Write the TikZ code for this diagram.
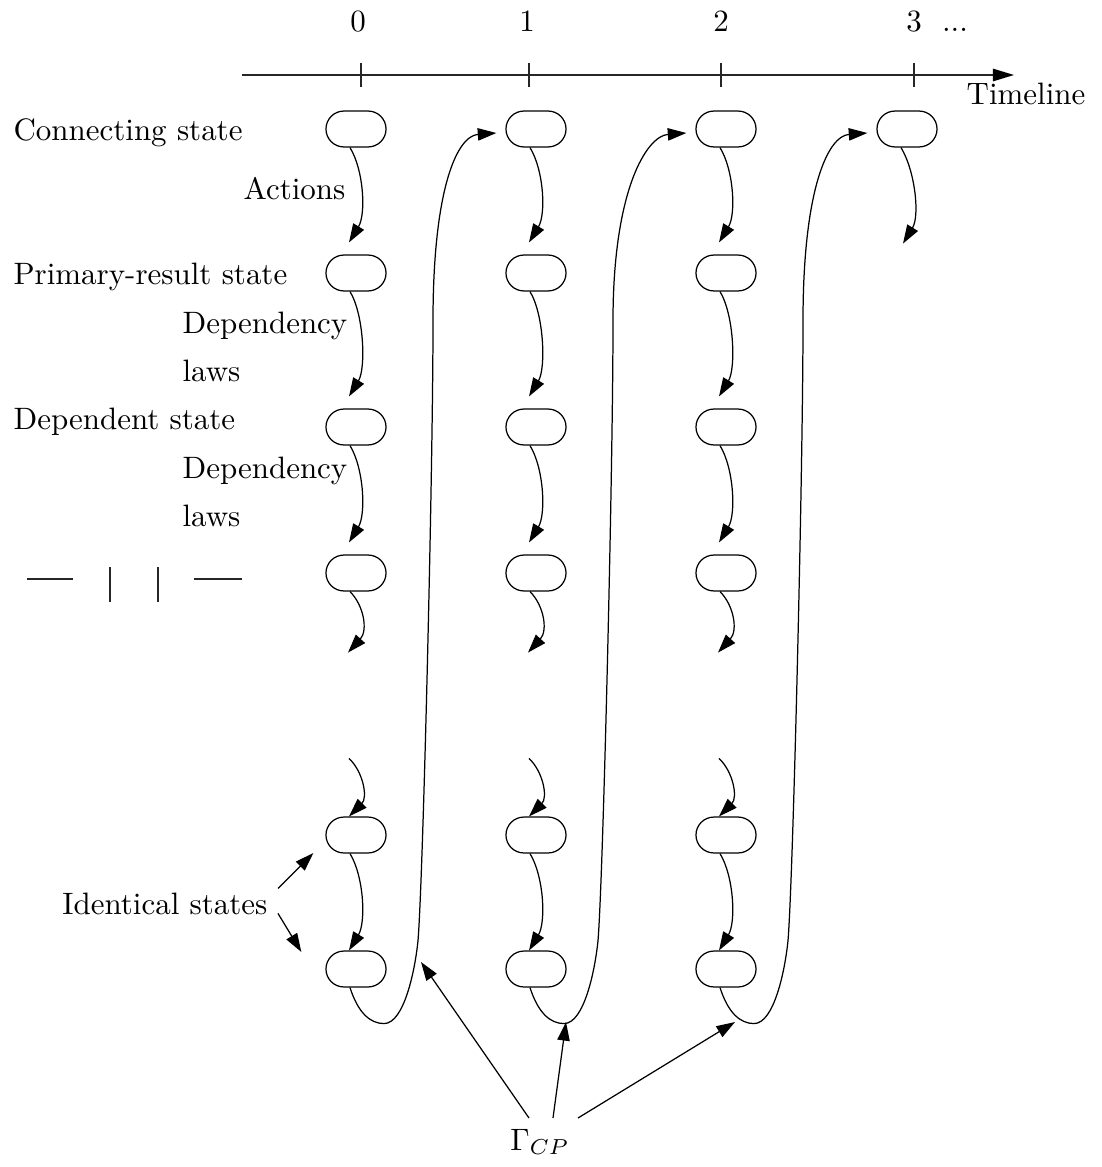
\documentclass[tikz,border=0pt]{standalone}
\usetikzlibrary{arrows.meta,calc}
\begin{document}
\begin{tikzpicture}[x=0.323pt,y=-0.323pt,
  st/.style={draw,rectangle,rounded corners=5.8pt,minimum width=19.4pt,minimum height=11.6pt,inner sep=0pt,line width=0.4pt},
  arr/.style={-{Triangle[length=6pt,width=4pt]},line width=0.4pt},
  lbl/.style={anchor=base west,inner sep=0pt},
  num/.style={anchor=base,inner sep=0pt},
  axis/.style={line width=0.5pt,black!85},
]
\useasboundingbox (0,0) rectangle (1102,1167);
% timeline
\coordinate (tl0) at (242,75);
\coordinate (tl1) at (1014,75);
\draw[axis,-{Triangle[length=6.8pt,width=4pt,color=black]}] (tl0) -- (tl1);
\foreach \x in {361,529,721,914} {\draw[axis] (\x,63) -- (\x,87);}
\node[num] (lab0) at (358,31) {0};
\node[num] (lab1) at (527,31) {1};
\node[num] (lab2) at (721,31) {2};
\node[num] (lab3) at (914,31) {3};
\node[num] (labdots) at (955,31) {...};
\node[num] (tlname) at (1026,104) {Timeline};
% states
\foreach \c/\x in {0/356,1/536,2/726}
  \foreach \r/\y in {0/129,1/273,2/427,3/573,4/835,5/969}
    \node[st] (n\c\r) at (\x,\y) {};
\node[st] (n30) at (907,129) {};
% left labels
\node[lbl] (lconn) at (13,140) {Connecting state};
\node[lbl] (lact) at (243,199) {Actions};
\node[lbl] (lprim) at (13,284) {Primary-result state};
\node[lbl] (ldep1) at (182,333) {Dependency};
\node[lbl] (llaw1) at (182,381) {laws};
\node[lbl] (ldst) at (13,429) {Dependent state};
\node[lbl] (ldep2) at (182,478) {Dependency};
\node[lbl] (llaw2) at (182,526) {laws};
\node[anchor=base east,inner sep=0pt] (ident) at (268,914) {Identical states};
% dash row
\draw[axis] (27,579) -- (73,579);
\draw[axis] (110,567) -- (110,602);
\draw[axis] (158,567) -- (158,602);
\draw[axis] (194,579) -- (242,579);
% vertical arrows
\foreach \c in {0,1,2} {
  \foreach \r/\s in {0/1,1/2,2/3} {
    \draw[arr] ($(n\c\r.south)+(-6,0)$) .. controls +(14,23) and +(17,-28) .. ($(n\c\s.north)+(-7,-12)$);
  }
  \coordinate (s\c) at ($(n\c3.south)+(-8,61)$);
  \draw[arr] ($(n\c3.south)+(-6,0)$) .. controls +(14,14) and +(20,-22) .. (s\c);
  \coordinate (t\c) at ($(n\c4.north)+(-7,-58)$);
  \draw[arr] (t\c) .. controls +(14,13) and +(19,-19) .. ($(n\c4.north)+(-7,0)$);
  \draw[arr] ($(n\c4.south)+(-6,0)$) .. controls +(14,23) and +(17,-28) .. ($(n\c5.north)+(-7,0)$);
}
\coordinate (e3) at ($(n30.south)+(-4,96)$);
\draw[arr] ($(n30.south)+(-6,0)$) .. controls +(14,23) and +(17,-28) .. (e3);
% loops
\foreach \c/\d in {0/1,1/2,2/3} {
  \draw[arr] ($(n\c5.south)+(-6,0)$) .. controls +(8,25) and +(-14,0) .. ($(n\c5.south)+(28,36)$)
    .. controls +(20,0) and +(-3,30) .. ($(n\c5.south)+(62,-47)$)
    .. controls +(5,-60) and +(0,150) .. ($(n\c5.south)+(77,-667)$)
    .. controls +(0,-130) and +(-40,3) .. ($(n\d0.west)+(-9,4)$);
}
% identical states arrows
\draw[arr] ($(ident.east)+(10,-15)$) -- ($(n04.west)+(-12,18)$);
\draw[arr] ($(ident.east)+(10,10)$) -- ($(n05.west)+(-24,-17)$);
% Gamma
\node[num] (gcp) at (540,1150) {$\Gamma_{CP}$};
\coordinate (g0) at (421,962);
\coordinate (g1) at (566,1022);
\coordinate (g2) at (735,1022);
\draw[arr] ($(gcp.base)+(-11,-32)$) -- (g0);
\draw[arr] ($(gcp.base)+(13,-32)$) -- (g1);
\draw[arr] ($(gcp.base)+(38,-32)$) -- (g2);
\end{tikzpicture}
\end{document}
